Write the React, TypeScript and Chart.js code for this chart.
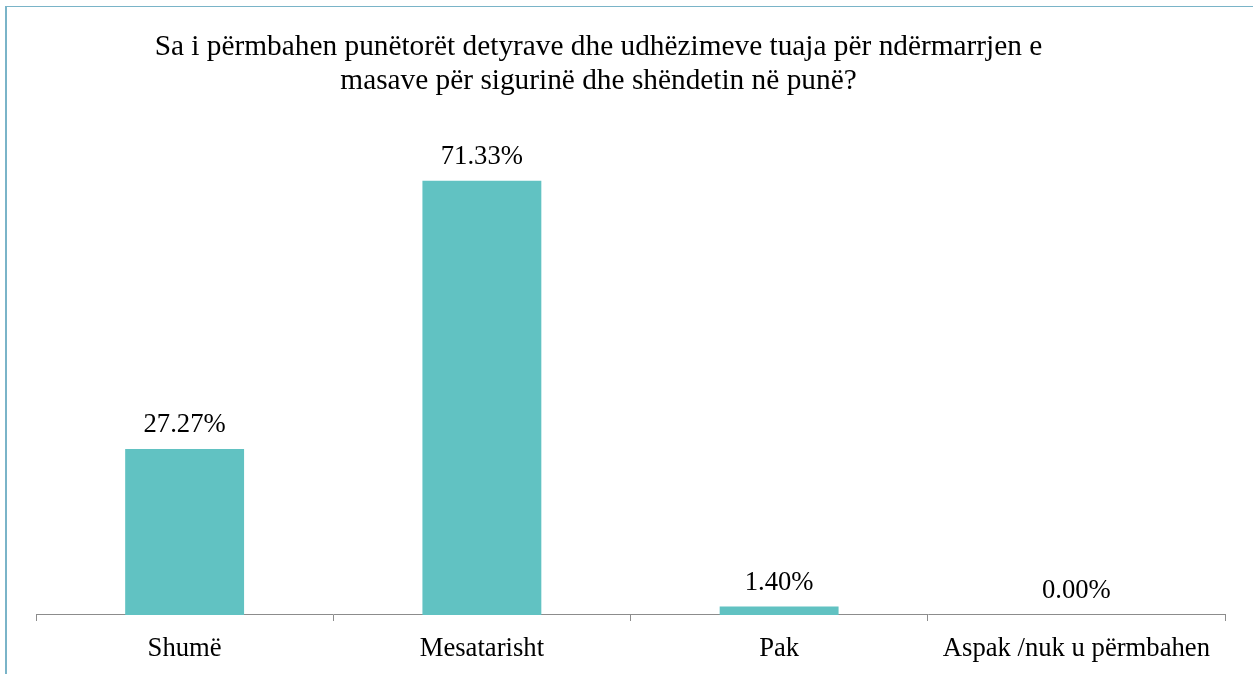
import React, { useEffect, useRef } from "react";
import { Chart, registerables } from "chart.js";

Chart.register(...registerables);

const categories = ["Shumë", "Mesatarisht", "Pak", "Aspak /nuk u përmbahen"];
const values = [27.27, 71.33, 1.4, 0.0];
const titleLines = [
  "Sa i përmbahen punëtorët detyrave dhe udhëzimeve tuaja për ndërmarrjen e",
  "masave për sigurinë dhe shëndetin në punë?",
];

const FONT = "'Liberation Serif', 'Times New Roman', serif";

const labelPlugin = {
  id: "valueLabels",
  afterDatasetsDraw(chart: any) {
    const ctx = chart.ctx;
    const meta = chart.getDatasetMeta(0);
    ctx.save();
    ctx.font = `26.67px ${FONT}`;
    ctx.fillStyle = "#000";
    ctx.textAlign = "center";
    ctx.textBaseline = "alphabetic";
    meta.data.forEach((bar: any, i: number) => {
      ctx.fillText(values[i].toFixed(2) + "%", bar.x, bar.y - 16.5);
    });
    ctx.restore();
  },
};

const titlePlugin = {
  id: "customTitle",
  afterDraw(chart: any) {
    const ctx = chart.ctx;
    ctx.save();
    ctx.font = `29.33px ${FONT}`;
    ctx.fillStyle = "#000";
    ctx.textAlign = "center";
    ctx.textBaseline = "alphabetic";
    ctx.fillText(titleLines[0], 598.5, 54.5);
    ctx.fillText(titleLines[1], 598.5, 88.5);
    ctx.restore();
  },
};

export default function App() {
  const ref = useRef<HTMLCanvasElement>(null);
  useEffect(() => {
    if (!ref.current) return;
    const chart = new Chart(ref.current, {
      type: "bar",
      data: {
        labels: categories,
        datasets: [
          {
            data: values,
            backgroundColor: "#61c2c2",
            borderWidth: 0,
            barPercentage: 0.4,
            categoryPercentage: 1,
          },
        ],
      },
      options: {
        responsive: false,
        animation: false,
        layout: { padding: { left: 36, right: 28, top: 128, bottom: 10 } },
        plugins: {
          legend: { display: false },
          title: { display: false },
          tooltip: { enabled: false },
        },
        scales: {
          x: {
            grid: {
              offset: true,
              drawOnChartArea: false,
              drawTicks: true,
              tickLength: 6,
              color: "#8c8c8c",
            },
            border: { display: true, color: "#8c8c8c", width: 1 },
            ticks: {
              font: { family: FONT, size: 26.67 },
              color: "#000",
              padding: 12,
              maxRotation: 0,
              autoSkip: false,
            },
          },
          y: {
            display: false,
            min: 0,
            max: 80,
          },
        },
      },
      plugins: [labelPlugin, titlePlugin],
    });
    return () => chart.destroy();
  }, []);

  return (
    <div
      style={{
        position: "fixed",
        left: 0,
        top: 0,
        width: 1253,
        height: 674,
        overflow: "hidden",
        background: "#fff",
      }}
    >
      <div
        style={{
          position: "absolute",
          left: 5,
          top: 6,
          width: 1400,
          height: 800,
          borderLeft: "2px solid #7ab4c8",
          borderTop: "1.5px solid #7ab4c8",
        }}
      />
      <canvas
        ref={ref}
        width={1253}
        height={687}
        style={{ position: "absolute", left: 0, top: 0 }}
      />
    </div>
  );
}
